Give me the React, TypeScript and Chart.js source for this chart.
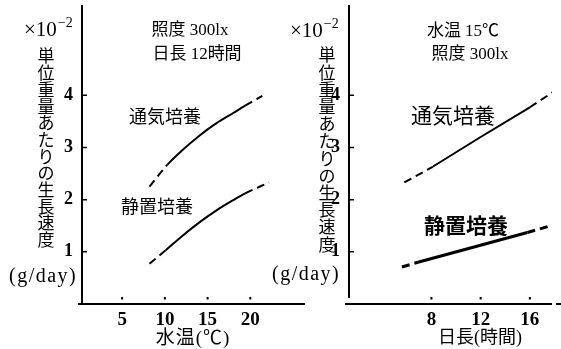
import { useEffect, useRef } from "react";
import { Chart, registerables } from "chart.js";

Chart.register(...registerables);

// ---- Data: left panel (water temperature, °C) ----
const tempTicks = [5, 10, 15, 20];
const yTicks = [1, 2, 3, 4];
const tempAeratedX = [8.2, 10.3, 12, 14, 16, 18, 19.4, 21.4];
const tempAeratedY = [2.25, 2.67, 2.94, 3.22, 3.46, 3.66, 3.8, 3.99];
const tempStaticX = [8.2, 10.1, 12, 14, 16, 18, 19.4, 22.2];
const tempStaticY = [0.77, 1.03, 1.3, 1.56, 1.79, 1.99, 2.12, 2.33];

// ---- Data: right panel (day length, hours) ----
const dayTicks = [8, 12, 16];
const dayAeratedX = [5.8, 8.1, 12, 16, 18];
const dayAeratedY = [2.33, 2.63, 3.2, 3.77, 4.08];
const dayStaticX = [5.6, 6.9, 15.8, 18];
const dayStaticY = [0.71, 0.8, 1.37, 1.52];

const yTitleChars = ["単", "位", "重", "量", "あ", "た", "り", "の", "生", "長", "速", "度"];

const SERIF = "'Liberation Serif', 'DejaVu Serif', serif";
const JP = "'Liberation Serif', 'Noto Sans CJK JP', sans-serif";

type TextItem = {
  t: string;
  x: number;
  y: number;
  size: number;
  bold?: boolean;
  align?: CanvasTextAlign;
  spacing?: number;
};

type Panel = {
  xMin: number;
  xMax: number;
  xTicks: number[];
  yWidth: number;
  padRight: number;
  series: { x: number[]; y: number[]; width: number; curved: boolean }[];
  texts: TextItem[];
  titleX: number;
  titleY0: number;
  titleStep: number;
  expX: number;
  expY: number;
  xAxisFrom: number;
  yAxisTo: number;
  extraDash?: boolean;
};

function toPoints(xs: number[], ys: number[]) {
  return xs.map((x, i) => ({ x, y: ys[i] }));
}

function makeDecor(p: Panel) {
  return {
    id: "decor",
    afterDraw(chart: any) {
      const ctx = chart.ctx as any;
      const a = chart.chartArea;
      const xs = chart.scales.x;
      const ys = chart.scales.y;
      ctx.save();
      ctx.strokeStyle = "#000";
      ctx.fillStyle = "#000";
      // axes
      ctx.lineWidth = 2;
      ctx.beginPath();
      ctx.moveTo(a.left, a.top);
      ctx.lineTo(a.left, p.yAxisTo);
      ctx.moveTo(p.xAxisFrom, a.bottom);
      ctx.lineTo(a.right, a.bottom);
      if (p.extraDash) {
        ctx.moveTo(a.right + 4, a.bottom);
        ctx.lineTo(a.right + 10, a.bottom);
      }
      ctx.stroke();
      // y tick marks (inside)
      ctx.lineWidth = 1.5;
      ctx.beginPath();
      yTicks.forEach((v) => {
        const py = ys.getPixelForValue(v);
        ctx.moveTo(a.left, py);
        ctx.lineTo(a.left + 5, py);
      });
      ctx.stroke();
      // x tick dots
      p.xTicks.forEach((v) => {
        const px = xs.getPixelForValue(v);
        ctx.fillRect(px - 1, a.bottom - 7, 2, 2.5);
      });
      // x10^-2
      ctx.textBaseline = "middle";
      ctx.textAlign = "left";
      ctx.font = `21px ${SERIF}`;
      ctx.fillText("×10", p.expX, p.expY);
      const w = ctx.measureText("×10").width;
      ctx.font = `14px ${SERIF}`;
      ctx.fillText("−2", p.expX + w + 1, p.expY - 7);
      // vertical title
      ctx.font = `17px ${JP}`;
      ctx.textAlign = "center";
      yTitleChars.forEach((c, i) => {
        ctx.fillText(c, p.titleX, p.titleY0 + i * p.titleStep);
      });
      // other texts
      p.texts.forEach((t) => {
        ctx.font = `${t.bold ? "bold " : ""}${t.size}px ${JP}`;
        ctx.textAlign = t.align || "center";
        if ("letterSpacing" in ctx) ctx.letterSpacing = `${t.spacing || 0}px`;
        ctx.fillText(t.t, t.x, t.y);
      });
      if ("letterSpacing" in ctx) ctx.letterSpacing = "0px";
      ctx.restore();
    },
  };
}

function buildConfig(p: Panel): any {
  return {
    type: "line",
    data: {
      datasets: p.series.map((s) => ({
        data: toPoints(s.x, s.y),
        borderColor: "#000",
        borderWidth: s.width,
        pointRadius: 0,
        fill: false,
        tension: s.curved ? 0.4 : 0,
        cubicInterpolationMode: s.curved ? "monotone" : "default",
        segment: {
          borderDash: (ctx: any) =>
            ctx.p0DataIndex === 0 || ctx.p1DataIndex === s.x.length - 1 ? [8, 5] : undefined,
        },
      })),
    },
    options: {
      animation: false,
      responsive: false,
      layout: { padding: { top: 5, right: p.padRight, left: 0, bottom: 0 } },
      plugins: { legend: { display: false }, tooltip: { enabled: false } },
      scales: {
        x: {
          type: "linear",
          min: p.xMin,
          max: p.xMax,
          grid: { display: false, drawTicks: false },
          border: { display: false },
          ticks: { color: "#000", font: { family: SERIF, size: 19, weight: "bold" }, padding: 5 },
          afterBuildTicks: (s: any) => {
            s.ticks = p.xTicks.map((v) => ({ value: v }));
          },
          afterFit: (s: any) => {
            s.height = 45;
            s.paddingLeft = 0;
            s.paddingRight = 0;
            s.paddingTop = 0;
            s.paddingBottom = 0;
          },
        },
        y: {
          type: "linear",
          min: 0,
          max: 5.73,
          grid: { display: false, drawTicks: false },
          border: { display: false },
          ticks: { color: "#000", font: { family: SERIF, size: 18, weight: "bold" }, padding: 9 },
          afterBuildTicks: (s: any) => {
            s.ticks = yTicks.map((v) => ({ value: v }));
          },
          afterFit: (s: any) => {
            s.width = p.yWidth;
            s.paddingLeft = 0;
            s.paddingRight = 0;
            s.paddingTop = 0;
            s.paddingBottom = 0;
          },
        },
      },
    },
  };
}

const leftPanel: Panel = {
  xMin: 0.3,
  xMax: 26.4,
  xTicks: tempTicks,
  yWidth: 82,
  padRight: 561 - 305,
  series: [
    { x: tempAeratedX, y: tempAeratedY, width: 2, curved: true },
    { x: tempStaticX, y: tempStaticY, width: 2, curved: true },
  ],
  texts: [
    { t: "照度 300lx", x: 190, y: 31, size: 17 },
    { t: "日長 12時間", x: 197, y: 55, size: 17 },
    { t: "通気培養", x: 165, y: 118, size: 18 },
    { t: "静置培養", x: 157, y: 208, size: 18 },
    { t: "(g/day)", x: 9, y: 277, size: 20, align: "left", spacing: 1.5 },
    { t: "水温(℃)", x: 193, y: 339, size: 19, spacing: 1 },
  ],
  titleX: 46,
  titleY0: 58,
  titleStep: 16.7,
  expX: 24,
  expY: 30,
  xAxisFrom: 78,
  yAxisTo: 304,
};

const rightPanel: Panel = {
  xMin: 1.3,
  xMax: 17.8,
  xTicks: dayTicks,
  yWidth: 349,
  padRight: 561 - 552,
  series: [
    { x: dayAeratedX, y: dayAeratedY, width: 2, curved: false },
    { x: dayStaticX, y: dayStaticY, width: 3, curved: false },
  ],
  texts: [
    { t: "水温 15℃", x: 463, y: 32, size: 17 },
    { t: "照度 300lx", x: 470, y: 55, size: 17 },
    { t: "通気培養", x: 453, y: 117, size: 21 },
    { t: "静置培養", x: 466, y: 228, size: 21, bold: true },
    { t: "(g/day)", x: 272, y: 275, size: 20, align: "left", spacing: 1.5 },
    { t: "日長(時間)", x: 480, y: 338, size: 18 },
  ],
  titleX: 327,
  titleY0: 57,
  titleStep: 17.2,
  expX: 290,
  expY: 31,
  xAxisFrom: 345,
  yAxisTo: 298,
  extraDash: true,
};

function PanelCanvas({ panel }: { panel: Panel }) {
  const ref = useRef<HTMLCanvasElement | null>(null);
  useEffect(() => {
    if (!ref.current) return;
    const cfg = buildConfig(panel);
    cfg.plugins = [makeDecor(panel)];
    const chart = new Chart(ref.current, cfg);
    return () => chart.destroy();
  }, [panel]);
  return (
    <canvas
      ref={ref}
      width={561}
      height={349}
      style={{ position: "absolute", left: 0, top: 0, width: 561, height: 349 }}
    />
  );
}

export default function App() {
  return (
    <div
      style={{
        position: "fixed",
        left: 0,
        top: 0,
        width: 561,
        height: 349,
        background: "#fff",
        overflow: "hidden",
      }}
    >
      <PanelCanvas panel={leftPanel} />
      <PanelCanvas panel={rightPanel} />
    </div>
  );
}
